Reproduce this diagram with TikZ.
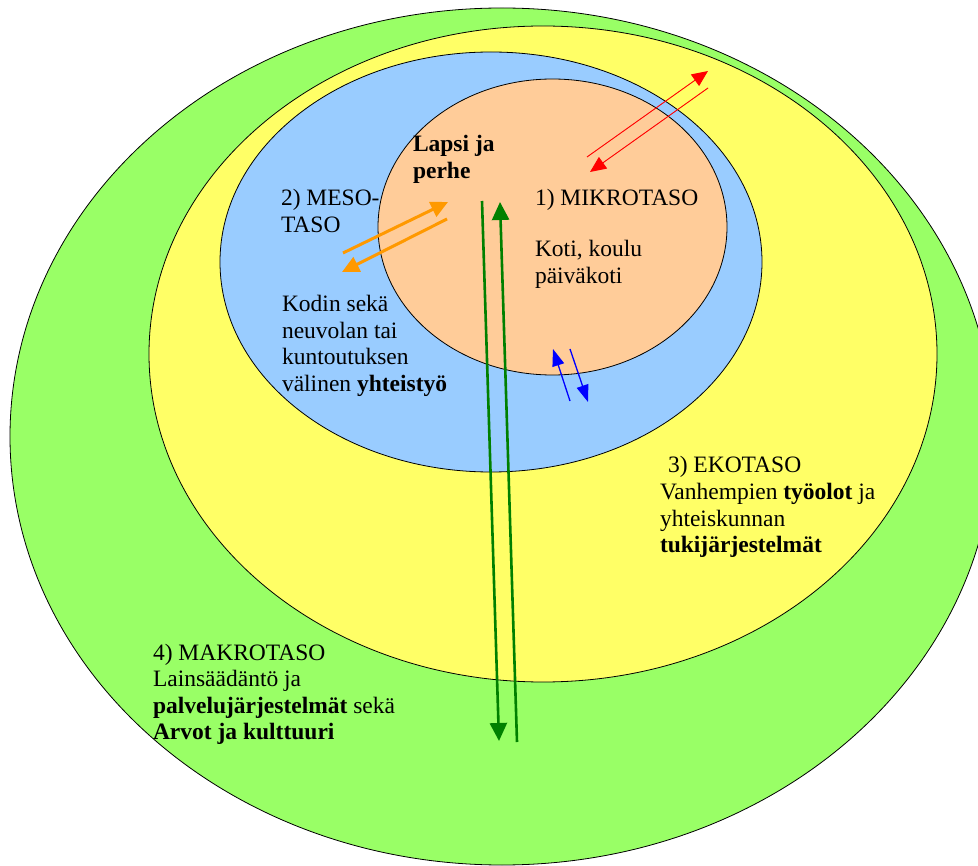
\documentclass[tikz,border=0pt]{standalone}
\usepackage{fontspec}
\setmainfont{Liberation Serif}
\newfontfamily\diagserif{Liberation Serif}
\usetikzlibrary{shapes.geometric,arrows.meta}
\definecolor{makrogreen}{HTML}{99FF66}
\definecolor{ekoyellow}{HTML}{FFFF66}
\definecolor{mesoblue}{HTML}{99CCFF}
\definecolor{mikropeach}{HTML}{FFCC99}
\definecolor{arrorange}{HTML}{FF9900}
\definecolor{arrgreen}{HTML}{008000}
\definecolor{arrred}{HTML}{FF0000}
\definecolor{arrblue}{HTML}{0000FF}
\begin{document}
\begin{tikzpicture}[x=1pt,y=-1pt,
  layer/.style={ellipse, draw=black, line width=0.8pt, inner sep=0pt, outer sep=0pt},
  lbl/.style={anchor=base west, inner sep=0pt, outer sep=0pt, font=\diagserif\fontsize{23.5}{26.5}\selectfont},
  redarr/.style={draw=arrred, line width=0.9pt, -{Triangle[length=16pt,width=14pt]}, fill=arrred},
  orangearr/.style={draw=arrorange, line width=3pt, -{Triangle[length=17pt,width=16pt]}, fill=arrorange},
  greenarr/.style={draw=arrgreen, line width=2.6pt, -{Triangle[length=18pt,width=17pt]}, fill=arrgreen},
  bluearr/.style={draw=arrblue, line width=1.3pt, -{Triangle[length=17pt,width=12pt]}, fill=arrblue}
]
\useasboundingbox (0,0) rectangle (978,866);
\begin{scope}
\clip (0,0) rectangle (978,866);
\node[layer, fill=makrogreen, minimum width=984pt, minimum height=857pt] (makro) at (502,436.5) {};
\node[layer, fill=ekoyellow, minimum width=788pt, minimum height=656pt] (eko) at (543,354) {};
\node[layer, fill=mesoblue, minimum width=542pt, minimum height=420pt] (meso) at (491,262) {};
\node[layer, fill=mikropeach, minimum width=349pt, minimum height=296pt] (mikro) at (552.5,227) {};
\end{scope}

% texts
\node[lbl] (lapsi) at (413,152) {\begin{tabular}[t]{@{}l@{}}\textbf{Lapsi ja}\\\textbf{perhe}\end{tabular}};
\node[lbl] (mikrot) at (535,206) {1) MIKROTASO};
\node[lbl] (koti) at (535,257) {\begin{tabular}[t]{@{}l@{}}Koti, koulu\\päiväkoti\end{tabular}};
\node[lbl] (mesot) at (281,206) {\begin{tabular}[t]{@{}l@{}}2) MESO-\\TASO\end{tabular}};
\node[lbl] (kodin) at (282,312) {\begin{tabular}[t]{@{}l@{}}Kodin sekä\\neuvolan tai\\kuntoutuksen\\välinen \textbf{yhteistyö}\end{tabular}};
\node[lbl] (ekot) at (668,473) {3) EKOTASO};
\node[lbl] (vanh) at (660,500) {\begin{tabular}[t]{@{}l@{}}Vanhempien \textbf{työolot} ja\\yhteiskunnan\\\textbf{tukijärjestelmät}\end{tabular}};
\node[lbl] (makrot) at (153,660) {\begin{tabular}[t]{@{}l@{}}4) MAKROTASO\\Lainsäädäntö ja\\\textbf{palvelujärjestelmät} sekä\\\textbf{Arvot ja kulttuuri}\end{tabular}};

% arrow end points
\coordinate (ra1) at (587,157); \coordinate (ra2) at (708,71);
\coordinate (rb1) at (708,88);  \coordinate (rb2) at (590,172);
\coordinate (oa1) at (343,253); \coordinate (oa2) at (448,202);
\coordinate (ob1) at (447,219); \coordinate (ob2) at (342,272);
\coordinate (ga1) at (482,201); \coordinate (ga2) at (499,741);
\coordinate (gb1) at (517,742); \coordinate (gb2) at (500,202);
\coordinate (ba1) at (570,401); \coordinate (ba2) at (553,349);
\coordinate (bb1) at (570,349); \coordinate (bb2) at (588,402);

\draw[redarr] (ra1) -- (ra2);
\draw[redarr] (rb1) -- (rb2);
\draw[orangearr] (oa1) -- (oa2);
\draw[orangearr] (ob1) -- (ob2);
\draw[greenarr] (ga1) -- (ga2);
\draw[greenarr] (gb1) -- (gb2);
\draw[bluearr] (ba1) -- (ba2);
\draw[bluearr] (bb1) -- (bb2);
\end{tikzpicture}
\end{document}
